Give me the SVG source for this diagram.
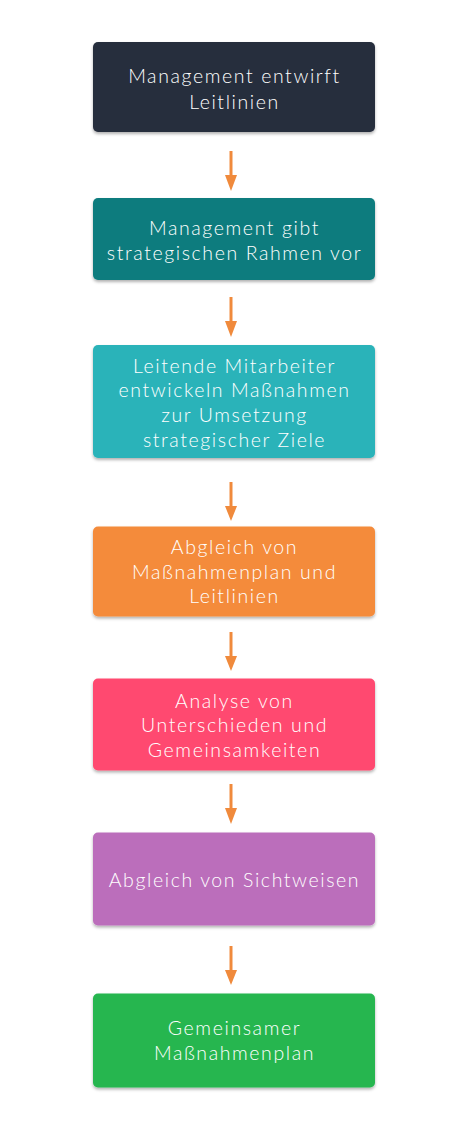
<svg xmlns="http://www.w3.org/2000/svg" width="460" height="1137" viewBox="0 0 460 1137">
<style>
.box{filter:url(#sh)}
.t{font-family:Lato,"Open Sans",sans-serif;font-size:19.5px;font-weight:300;fill:#ffffff;text-anchor:middle;letter-spacing:1.6px}
.c{stroke:#f08a3c;stroke-width:3;fill:none}
.h{fill:#f08a3c}
</style>
<defs>
<filter id="sh" x="-10%" y="-10%" width="120%" height="130%">
<feDropShadow dx="0" dy="2" stdDeviation="1.5" flood-color="#000" flood-opacity="0.3"/>
</filter>
</defs>
<rect width="460" height="1137" fill="#ffffff"/>
<g id="connectors">
<g><line class="c" x1="231" y1="151" x2="231" y2="178"/><polygon class="h" points="225,175 237,175 231,191"/></g>
<g><line class="c" x1="231" y1="297" x2="231" y2="324"/><polygon class="h" points="225,321 237,321 231,337"/></g>
<g><line class="c" x1="231" y1="482" x2="231" y2="509"/><polygon class="h" points="225,506 237,506 231,521"/></g>
<g><line class="c" x1="231" y1="632" x2="231" y2="659"/><polygon class="h" points="225,656 237,656 231,671"/></g>
<g><line class="c" x1="231" y1="784" x2="231" y2="811"/><polygon class="h" points="225,808 237,808 231,824"/></g>
<g><line class="c" x1="231" y1="946" x2="231" y2="973"/><polygon class="h" points="225,970 237,970 231,985"/></g>
</g>
<g id="n1"><rect class="box" x="93" y="42" width="282" height="90" rx="5" fill="#272f3d"/>
<text class="t" x="234.5" y="83">Management entwirft</text><text class="t" x="234.5" y="109">Leitlinien</text></g>
<g id="n2"><rect class="box" x="93" y="198" width="282" height="82" rx="5" fill="#0c7c7e"/>
<text class="t" x="234.5" y="235">Management gibt</text><text class="t" x="234.5" y="260">strategischen Rahmen vor</text></g>
<g id="n3"><rect class="box" x="93" y="345" width="282" height="113" rx="5" fill="#2bb3b9"/>
<text class="t" x="234.5" y="372.5">Leitende Mitarbeiter</text><text class="t" x="234.5" y="397">entwickeln Maßnahmen</text><text class="t" x="234.5" y="421.5">zur Umsetzung</text><text class="t" x="234.5" y="446.5">strategischer Ziele</text></g>
<g id="n4"><rect class="box" x="93" y="526.5" width="282" height="90" rx="5" fill="#f48b3a"/>
<text class="t" x="234.5" y="554">Abgleich von</text><text class="t" x="234.5" y="578.5">Maßnahmenplan und</text><text class="t" x="234.5" y="603">Leitlinien</text></g>
<g id="n5"><rect class="box" x="93" y="678.5" width="282" height="92" rx="5" fill="#ff4a6f"/>
<text class="t" x="234.5" y="708">Analyse von</text><text class="t" x="234.5" y="732">Unterschieden und</text><text class="t" x="234.5" y="756.5">Gemeinsamkeiten</text></g>
<g id="n6"><rect class="box" x="93" y="832.5" width="282" height="93" rx="5" fill="#bb6ebb"/>
<text class="t" x="234.5" y="886.5">Abgleich von Sichtweisen</text></g>
<g id="n7"><rect class="box" x="93" y="993.5" width="282" height="94" rx="5" fill="#26b64f"/>
<text class="t" x="234.5" y="1035">Gemeinsamer</text><text class="t" x="234.5" y="1060">Maßnahmenplan</text></g>
</svg>
